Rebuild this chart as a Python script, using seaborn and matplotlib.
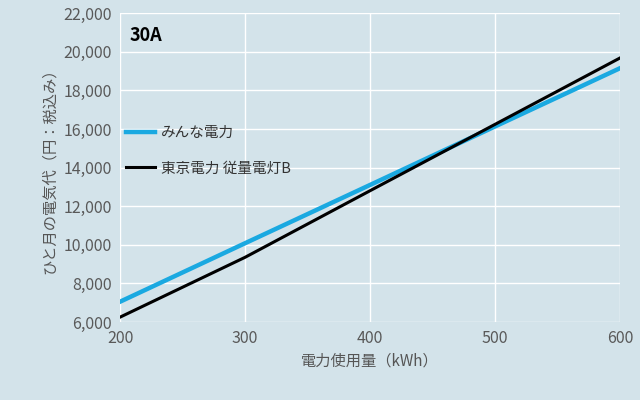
import matplotlib
matplotlib.use("Agg")
import matplotlib.pyplot as plt
import seaborn as sns
import pandas as pd

kwh = [200, 300, 400, 500, 600]
minna = [7050, 10080, 13100, 16130, 19150]
tepco = [6250, 9350, 12800, 16240, 19680]
series_names = ["みんな電力", "東京電力 従量電灯B"]

plt.rcParams["font.family"] = "Noto Sans CJK JP"
bg = "#d3e3ea"
df = pd.DataFrame({"kwh": kwh * 2, "cost": minna + tepco,
                   "s": [series_names[0]] * 5 + [series_names[1]] * 5})

fig = plt.figure(figsize=(6.4, 4.0), dpi=100, facecolor=bg)
ax = fig.add_axes([0.1875, 0.195, 0.78125, 0.772])
ax.set_facecolor(bg)
sns.lineplot(data=df, x="kwh", y="cost", hue="s", palette=["#1aa9e1", "#000000"],
             ax=ax, legend=False)
for l, w in zip(ax.lines, [3.2, 2.2]):
    l.set_linewidth(w)
ax.set_xlim(200, 600)
ax.set_ylim(6000, 22000)
ax.set_xticks([200, 300, 400, 500, 600])
ax.set_yticks(range(6000, 22001, 2000))
ax.set_yticklabels([f"{v:,}" for v in range(6000, 22001, 2000)])
ax.grid(True, color="white", linewidth=1)
ax.set_axisbelow(True)
for s in ax.spines.values():
    s.set_visible(False)
ax.tick_params(length=0, labelsize=11.5, colors="#595959", pad=6)
ax.set_xlabel("電力使用量（kWh）", fontsize=11, color="#555555")
ax.set_ylabel("ひと月の電気代（円：税込み）", fontsize=11, color="#555555")
ax.text(0.02, 0.96, "30A", transform=ax.transAxes, fontsize=13, fontweight="bold", va="top")
from matplotlib.lines import Line2D
h = [Line2D([], [], color="#1aa9e1", lw=3.2), Line2D([], [], color="black", lw=2.2)]
ax.legend(h, series_names, loc="center left", bbox_to_anchor=(-0.015, 0.555), frameon=False,
          fontsize=10.5, handlelength=2.0, handletextpad=0.4, labelspacing=1.5,
          labelcolor="#333333")
fig.savefig("out.png", dpi=100, facecolor=bg)
